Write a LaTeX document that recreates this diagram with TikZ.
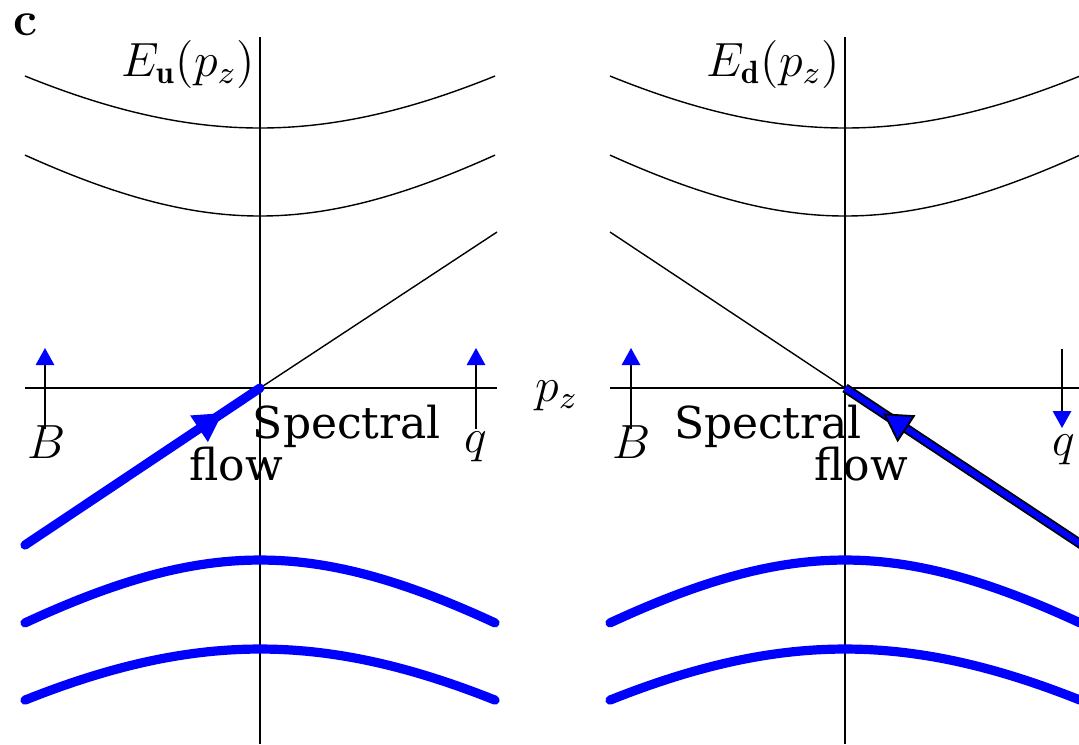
\documentclass[tikz,border=0pt]{standalone}
\usepackage{amsmath}
\usepackage{fontspec}
\newfontfamily\flowfont{DejaVu Serif}
\usetikzlibrary{arrows.meta, decorations.markings}

\begin{document}
\begin{tikzpicture}[
  x=0.25pt, y=-0.25pt,
  axis/.style={line width=0.5pt},
  band/.style={line width=0.35pt},
  lowband/.style={blue, line width=2.3pt, line cap=round},
  field/.style={line width=0.45pt, -{Triangle[length=4.25pt, width=4.6pt, color=blue]}},
  flowlabel/.style={font=\flowfont\fontsize{11}{13}\selectfont, inner sep=0pt},
  mathlabel/.style={font=\fontsize{11.5}{13}\selectfont, inner sep=0pt}
]
\clip (0,0) rectangle (1079,744);
\coordinate (Ou) at (260,388);
\coordinate (Od) at (845,388);
% axes and bands of both panels
\foreach \dx in {0,585}{
  \draw[axis] (260+\dx,37) -- (260+\dx,744);
  \draw[axis] (25+\dx,388) -- (497+\dx,388);
  \draw[band] plot[domain=-235:235, samples=60] ({260+\dx+\x}, {388-100*sqrt(2.6^2+(0.00734*\x)^2)});
  \draw[band] plot[domain=-235:235, samples=60] ({260+\dx+\x}, {388-100*sqrt(1.72^2+(0.00669*\x)^2)});
  \draw[lowband] plot[domain=-235:235, samples=60] ({260+\dx+\x}, {388+100*sqrt(1.72^2+(0.00681*\x)^2)});
  \draw[lowband] plot[domain=-235:235, samples=60] ({260+\dx+\x}, {388+100*sqrt(2.61^2+(0.00728*\x)^2)});
}
\coordinate (Lu) at (497,232);
\coordinate (Ld) at (610,232);
\draw[band] (Ou) -- (Lu);
\draw[band] (Ld) -- (Od);
% spectral flow
\draw[lowband, postaction={decorate}, decoration={markings, mark=at position 0.84 with {\arrow{Triangle[length=7pt, width=8pt, line width=0pt]}}}] (25,545) -- (Ou);
\draw[double=blue, double distance=1.5pt, line width=0.45pt] (1082,545) -- (Od);
\path[decoration={markings, mark=at position 0.84 with {\arrow[black]{Triangle[length=7pt, width=8pt, line width=0.45pt, fill=blue]}}}, decorate] (1082,545) -- (Od);
% fields
\draw[field] (45,429) -- (45,348);
\draw[field] (476,429) -- (476,348);
\draw[field] (631,429) -- (631,348);
\draw[field] (1062,349) -- (1062,428);
% labels
\node[font=\bfseries\fontsize{12}{14}\selectfont, inner sep=0pt] (tag) at (25,25) {c};
\node[mathlabel, anchor=base east] (Eu) at (256,76) {$E_{\mathbf{u}}(p_z)$};
\node[mathlabel, anchor=base east] (Ed) at (841,76) {$E_{\mathbf{d}}(p_z)$};
\node[mathlabel] (pz) at (557,396) {$p_z$};
\node[mathlabel, anchor=base] (Bu) at (47,458) {$B$};
\node[mathlabel] (qu) at (476,447) {$q$};
\node[mathlabel, anchor=base] (Bd) at (632,458) {$B$};
\node[mathlabel] (qd) at (1064,450) {$q$};
\node[flowlabel, anchor=base] (su) at (347,438) {Spectral};
\node[flowlabel, anchor=base] (fu) at (236,480) {flow};
\node[flowlabel, anchor=base] (sd) at (768,438) {Spectral};
\node[flowlabel, anchor=base] (fd) at (861,480) {flow};
\end{tikzpicture}
\end{document}
